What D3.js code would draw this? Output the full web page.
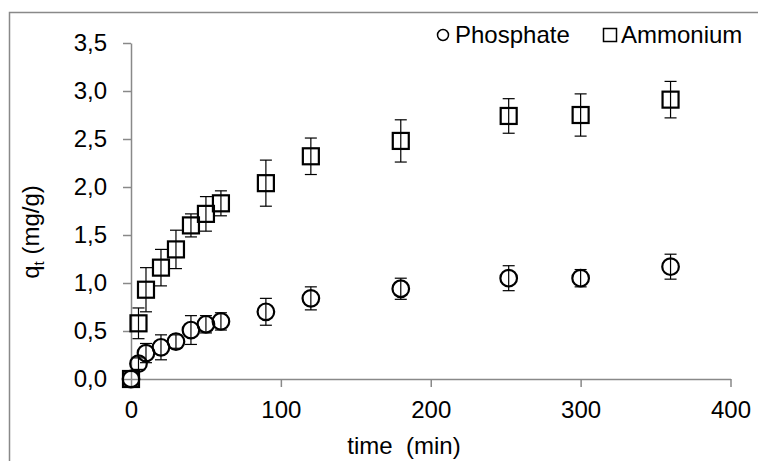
<!DOCTYPE html>
<html>
<head>
<meta charset="utf-8">
<script src="https://cdn.jsdelivr.net/npm/d3@7"></script>
<style>
  body { margin: 0; background: #fff; }
  svg text { font-family: Arial, 'Liberation Sans', sans-serif; fill: #000; }
</style>
</head>
<body>
<div id="chart"></div>
<script>
var width = 758
var height = 461

// sampling times (min)
var times = [0, 5, 10, 20, 30, 40, 50, 60, 90, 120, 180, 252, 300, 360];

// q_t (mg/g) and error bars
var phosphate    = [0, 0.16, 0.27, 0.33, 0.39, 0.51, 0.57, 0.60, 0.70, 0.84, 0.94, 1.05, 1.05, 1.17];
var phosphateErr = [0, 0.06, 0.10, 0.13, 0.07, 0.15, 0.09, 0.09, 0.14, 0.12, 0.11, 0.13, 0.09, 0.13];
var ammonium     = [0, 0.58, 0.93, 1.16, 1.35, 1.60, 1.72, 1.83, 2.04, 2.32, 2.48, 2.74, 2.75, 2.91];
var ammoniumErr  = [0, 0.16, 0.23, 0.19, 0.20, 0.12, 0.18, 0.13, 0.24, 0.19, 0.22, 0.18, 0.22, 0.19];

var xTicks = [0, 100, 200, 300, 400];
var yTicks = [0, 0.5, 1, 1.5, 2, 2.5, 3, 3.5];

var grey = '#898989';

var svg = d3.select('#chart')
            .append('svg')
            .attr('width', width)
            .attr('height', height);

// chart frame (cut off at right and bottom like the source)
svg.append('rect')
   .attr('x', 9.5).attr('y', 12.5)
   .attr('width', 800).attr('height', 500)
   .attr('fill', 'none')
   .attr('stroke', grey)
   .attr('stroke-width', 1.5);

var x = d3.scaleLinear().domain([0, 400]).range([131, 730.5]);
var y = d3.scaleLinear().domain([0, 3.5]).range([379, 43]);

var comma = function(d){ return d3.format('.1f')(d).replace('.', ','); };

//////////////// axes ////////////////
var yAxis = svg.append('g')
   .attr('transform', 'translate(' + x(0) + ',0)')
   .call(d3.axisLeft(y).tickValues(yTicks).tickFormat(comma)
           .tickSize(8).tickSizeOuter(0).tickPadding(16));

var xAxis = svg.append('g')
   .attr('transform', 'translate(0,' + y(0) + ')')
   .call(d3.axisBottom(x).tickValues(xTicks).tickFormat(d3.format('d'))
           .tickSize(8).tickSizeOuter(0).tickPadding(14));

[xAxis, yAxis].forEach(function(a){
    a.select('.domain').attr('stroke', grey).attr('stroke-width', 1.5);
    a.selectAll('.tick line').attr('stroke', grey).attr('stroke-width', 1.5);
    a.selectAll('.tick text')
     .style('font-family', "Arial, 'Liberation Sans', sans-serif")
     .style('font-size', '24px')
     .attr('fill', '#000');
});

// axis titles
var yLab = svg.append('text')
   .attr('transform', 'translate(39,232) rotate(-90)')
   .attr('text-anchor', 'middle')
   .style('font-size', '24px');
yLab.append('tspan').text('q');
yLab.append('tspan').text('t').style('font-size', '15px').attr('dy', 5);
yLab.append('tspan').text(' (mg/g)').attr('dy', -5);

svg.append('text')
   .attr('x', 404).attr('y', 454)
   .attr('text-anchor', 'middle')
   .style('font-size', '24px')
   .style('white-space', 'pre')
   .attr('xml:space', 'preserve')
   .text('time  (min)');

//////////////// series ////////////////
function rows(vals, errs){
    return times.map(function(t, i){ return { t: t, v: vals[i], e: errs[i] }; });
}

function drawErrors(data){
    var g = svg.append('g').attr('stroke', '#000').attr('stroke-width', 1.2);
    data.forEach(function(d){
        if (!d.e) return;
        var cx = x(d.t);
        g.append('line').attr('x1', cx).attr('x2', cx)
         .attr('y1', y(d.v + d.e)).attr('y2', y(d.v - d.e));
        g.append('line').attr('x1', cx - 6).attr('x2', cx + 6)
         .attr('y1', y(d.v + d.e)).attr('y2', y(d.v + d.e));
        g.append('line').attr('x1', cx - 6).attr('x2', cx + 6)
         .attr('y1', y(d.v - d.e)).attr('y2', y(d.v - d.e));
    });
}

var phos = rows(phosphate, phosphateErr);
var amm = rows(ammonium, ammoniumErr);

drawErrors(amm);
drawErrors(phos);

svg.append('g').selectAll('rect')
   .data(amm).enter()
   .append('rect')
   .attr('x', function(d){ return x(d.t) - 8; })
   .attr('y', function(d){ return y(d.v) - 8; })
   .attr('width', 16).attr('height', 16)
   .attr('fill', 'none').attr('stroke', '#000').attr('stroke-width', 2.2);

svg.append('g').selectAll('circle')
   .data(phos).enter()
   .append('circle')
   .attr('cx', function(d){ return x(d.t); })
   .attr('cy', function(d){ return y(d.v); })
   .attr('r', 8.3)
   .attr('fill', 'none').attr('stroke', '#000').attr('stroke-width', 2.2);

//////////////// legend ////////////////
svg.append('circle')
   .attr('cx', 443).attr('cy', 35).attr('r', 5.5)
   .attr('fill', 'none').attr('stroke', '#000').attr('stroke-width', 1.5);
svg.append('text').attr('x', 455).attr('y', 43).style('font-size', '24px').text('Phosphate');

svg.append('rect')
   .attr('x', 603.5).attr('y', 28.5).attr('width', 13).attr('height', 13)
   .attr('fill', 'none').attr('stroke', '#000').attr('stroke-width', 1.5);
svg.append('text').attr('x', 621).attr('y', 43).style('font-size', '24px').text('Ammonium');
</script>
</body>
</html>
